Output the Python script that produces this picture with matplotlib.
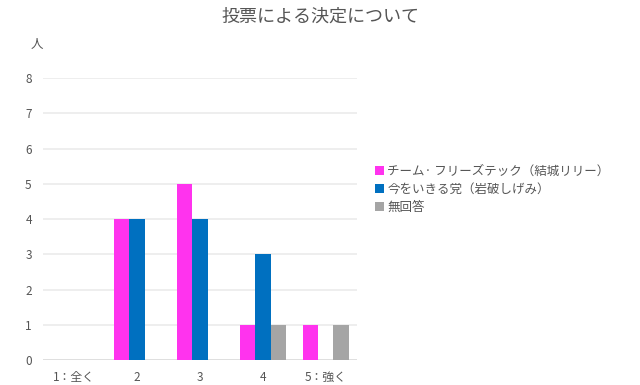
import numpy as np
import matplotlib.pyplot as plt

plt.rcParams['font.family'] = ['Noto Sans CJK JP', 'DejaVu Sans']

# data
categories = ["1：全く", "2", "3", "4", "5：強く"]
series_names = ["チーム· フリーズテック（結城リリー）", "今をいきる党（岩破しげみ）", "無回答"]
team_freeze = [0, 4, 5, 1, 1]
ima_wo_ikiru = [0, 4, 4, 3, 0]
no_answer = [0, 0, 0, 1, 1]
colors = ["#FF33EE", "#0070C0", "#A5A5A5"]

fig = plt.figure(figsize=(6.4, 3.85), dpi=100)
ax = fig.add_axes([0.067, 0.065, 0.491, 0.732])

x = np.arange(1, len(categories) + 1)
w = 0.245
for i, (vals, name, c) in enumerate(zip([team_freeze, ima_wo_ikiru, no_answer], series_names, colors)):
    ax.bar(x + (i - 1) * w, vals, width=w, color=c, label=name, zorder=3)

ax.set_xlim(0.5, 5.5)
ax.set_ylim(0, 8)
ax.set_yticks(range(0, 9))
ax.set_xticks(x)
ax.set_xticklabels(categories)
ax.grid(axis='y', color='#EBEBEB', linewidth=1.2, zorder=0)
for s in ax.spines.values():
    s.set_visible(False)
ax.axhline(0, color='#DDDDDD', linewidth=1.2, zorder=2)
ax.tick_params(length=0, labelsize=8.5, colors='#555555', pad=8)

fig.text(0.5, 0.958, "投票による決定について", ha='center', va='center', fontsize=13, color='#555555')
fig.text(0.058, 0.885, "人", ha='center', va='center', fontsize=9, color='#555555')

leg = ax.legend(loc='center left', bbox_to_anchor=(1.04, 0.605), frameon=False,
                fontsize=9, handlelength=0.75, handleheight=0.75, handletextpad=0.25,
                labelspacing=0.42, borderaxespad=0)
for t in leg.get_texts():
    t.set_color('#555555')

fig.savefig("out.png", dpi=100)
